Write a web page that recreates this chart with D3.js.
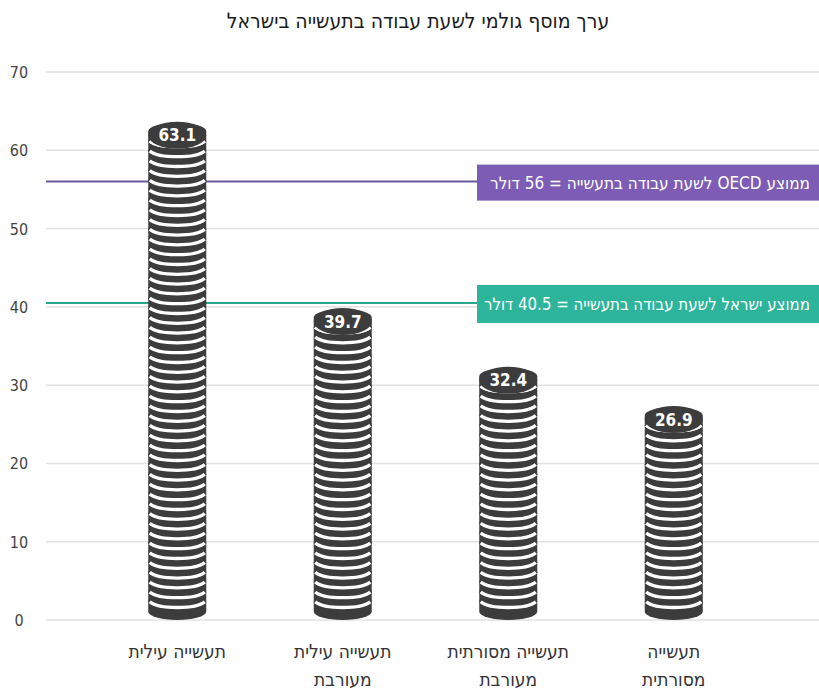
<!DOCTYPE html>
<html><head><meta charset="utf-8">
<script src="https://cdn.jsdelivr.net/npm/d3@7"></script>
<style>
html,body{margin:0;padding:0;background:#fff;}
svg{display:block;font-family:"DejaVu Sans Condensed","DejaVu Sans",sans-serif;}
</style></head>
<body>
<svg id="chart" width="819" height="693"></svg>
<script>
const title = "ערך מוסף גולמי לשעת עבודה בתעשייה בישראל";
const categories = [["תעשייה עילית"], ["תעשייה עילית", "מעורבת"], ["תעשייה מסורתית", "מעורבת"], ["תעשייה", "מסורתית"]];
const values = [63.1, 39.7, 32.4, 26.9];
const yTicks = [0, 10, 20, 30, 40, 50, 60, 70];
const refValues = [56, 40.5];
const refLabels = ["ממוצע OECD לשעת עבודה בתעשייה = 56 דולר", "ממוצע ישראל לשעת עבודה בתעשייה = 40.5 דולר"];
const refColors = ["#6a5a9c", "#2aa68c"];
const refBoxColors = ["#7c5cb4", "#2db59c"];

const svg = d3.select("#chart");
const W = 819;
const y = d3.scaleLinear().domain([0, 70]).range([620, 72]);
const x = d3.scaleBand().domain(d3.range(values.length)).range([94.5, 756.5]).padding(0);

svg.append("text").attr("x", 418).attr("y", 28).attr("text-anchor", "middle")
  .attr("font-size", 21).attr("font-weight", 500).attr("fill", "#1a1a1a").attr("direction", "rtl").text(title);

// grid
svg.append("g").selectAll("line").data(yTicks).join("line")
  .attr("x1", 46).attr("x2", W).attr("y1", d => y(d)).attr("y2", d => y(d))
  .attr("stroke", "#e2e2e2").attr("stroke-width", 1.5);
svg.append("g").selectAll("text").data(yTicks).join("text")
  .attr("x", 19).attr("y", d => y(d) + 6).attr("text-anchor", "middle")
  .attr("font-size", 16).attr("fill", "#444").text(d => d);

// reference lines
const refBoxX = 477, refBoxH = [36, 38], refTextLen = [320, 326];
refValues.forEach((v, i) => {
  svg.append("line").attr("x1", 46).attr("x2", refBoxX).attr("y1", y(v)).attr("y2", y(v))
    .attr("stroke", refColors[i]).attr("stroke-width", 2);
  svg.append("rect").attr("x", refBoxX).attr("y", y(v) - refBoxH[i] / 2 + 1).attr("width", W - refBoxX)
    .attr("height", refBoxH[i]).attr("fill", refBoxColors[i]);
  svg.append("text").attr("x", 810).attr("y", y(v) + 7).attr("text-anchor", "start")
    .attr("direction", "rtl").attr("font-size", 17).attr("fill", "#fff")
    .attr("textLength", refTextLen[i]).attr("lengthAdjust", "spacingAndGlyphs").text(refLabels[i]);
});

// coin stacks
const rx = 29, ry = 8.5, t = 9.8, dark = "#3c3c3c";
const base = y(0);
values.forEach((v, i) => {
  const cx = x(i) + x.bandwidth() / 2;
  const n = Math.round((base - 2 * ry - y(v)) / t);
  const g = svg.append("g");
  for (let k = 0; k < n; k++) {
    const cb = base - ry - k * t;
    g.append("path")
      .attr("d", `M${cx - rx},${cb} A${rx},${ry} 0 0 0 ${cx + rx},${cb} L${cx + rx},${cb - t} A${rx},${ry} 0 0 0 ${cx - rx},${cb - t} Z`)
      .attr("fill", dark);
    if (k > 0) {
      g.append("path").attr("d", `M${cx - rx + 1.5},${cb} A${rx},${ry} 0 0 0 ${cx + rx - 1.5},${cb}`)
        .attr("fill", "none").attr("stroke", "#fff").attr("stroke-width", 3.3);
    }
  }
  const topC = base - ry - n * t;
  g.append("path").attr("d", `M${cx - rx + 1.5},${topC + t} A${rx},${ry} 0 0 0 ${cx + rx - 1.5},${topC + t}`)
    .attr("fill", "none").attr("stroke", "#fff").attr("stroke-width", 3.3);
  g.append("ellipse").attr("cx", cx).attr("cy", topC + 4).attr("rx", rx).attr("ry", ry + 5).attr("fill", dark);
  g.append("text").attr("x", cx).attr("y", topC + 10).attr("text-anchor", "middle")
    .attr("font-size", 17).attr("font-weight", "bold").attr("fill", "#fff").text(v);
});

// category labels
categories.forEach((lines, i) => {
  const cx = x(i) + x.bandwidth() / 2;
  lines.forEach((s, j) => {
    svg.append("text").attr("x", cx).attr("y", 658 + j * 28).attr("text-anchor", "middle")
      .attr("direction", "rtl").attr("font-size", 19).attr("fill", "#333").text(s);
  });
});
</script>
</body></html>
